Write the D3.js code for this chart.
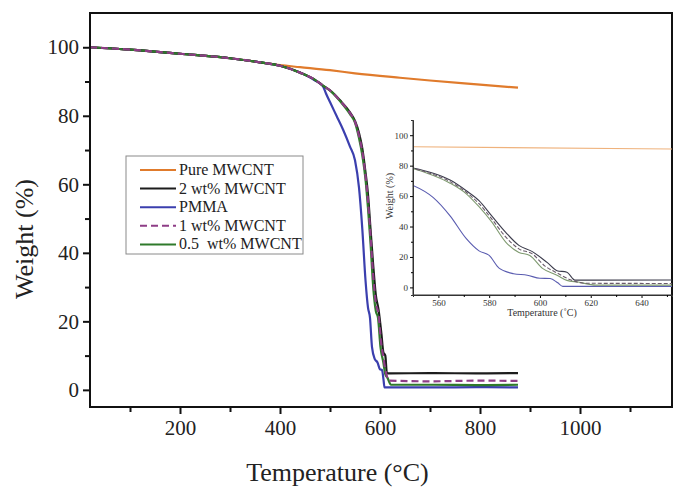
<!DOCTYPE html>
<html>
<head>
<meta charset="utf-8">
<script src="https://cdn.jsdelivr.net/npm/d3@7"></script>
<style>
  body { margin: 0; background: #fff; }
  svg { display: block; font-family: "Liberation Serif", "Times New Roman", serif; }
</style>
</head>
<body>
<svg id="chart"></svg>
<script>
// TGA curves, weight (%) vs temperature (°C)
const pureT = [20, 100, 200, 300, 360, 400, 440, 500, 550, 640, 700, 800, 876];
const pureW = [100, 99.3, 98.1, 96.8, 95.6, 94.8, 94.2, 93.3, 92.4, 91.1, 90.3, 89.1, 88.2];

const blackT = [20, 100, 200, 300, 360, 400, 440, 470, 486, 500, 520, 540, 550, 558, 564.6, 571, 576, 581, 586.6, 591.7, 597, 602.8, 606.7, 610.6, 613.8, 620, 700, 800, 876];
const blackW = [100, 99.3, 98.1, 96.8, 95.6, 94.6, 92.6, 90.5, 88.8, 87.4, 84.5, 81, 78.5, 75, 70.5, 63.5, 57, 47, 36, 27.6, 23.5, 16.4, 11, 10, 4.8, 4.8, 4.9, 4.8, 4.9];

const pmmaT = [20, 100, 200, 300, 360, 400, 440, 470, 486, 492, 500, 513, 526, 540, 550, 558, 564.6, 571, 576, 580, 584, 589.6, 595, 600, 604, 607, 609, 700, 800, 876];
const pmmaW = [100, 99.3, 98.1, 96.8, 95.6, 94.6, 92.6, 90.3, 88.6, 86.5, 84, 80, 76, 71, 67, 59, 47, 32, 24, 21, 12.5, 9, 8, 6, 5.8, 3, 0.7, 0.7, 0.8, 0.7];

const oneT = [20, 100, 200, 300, 360, 400, 440, 470, 486, 500, 520, 540, 550, 558, 564.6, 571, 576, 581, 586.6, 591.7, 597, 602, 606.7, 612, 618, 700, 800, 876];
const oneW = [100, 99.3, 98.1, 96.8, 95.6, 94.6, 92.6, 90.5, 88.8, 87.4, 84.4, 80.8, 78.2, 74.2, 69.5, 62.5, 55, 45, 33, 25.3, 22, 14, 9.5, 5, 2.7, 2.5, 2.7, 2.6];

const halfT = [20, 100, 200, 300, 360, 400, 440, 470, 486, 500, 520, 540, 550, 558, 564.6, 571, 576, 581, 586.6, 591.7, 596, 601, 606.7, 610.6, 615, 622, 700, 800, 876];
const halfW = [100, 99.3, 98.1, 96.8, 95.6, 94.6, 92.6, 90.5, 88.8, 87.4, 84.3, 80.5, 78, 73.5, 68.5, 61.5, 53, 43, 29.6, 23, 21, 12.5, 8, 4.6, 3.5, 1.5, 1.5, 1.4, 1.5];

const seriesNames = ["Pure MWCNT", "2 wt% MWCNT", "PMMA", "1 wt% MWCNT", "0.5  wt% MWCNT"];
const xTicks = [200, 400, 600, 800, 1000];
const yTicks = [0, 20, 40, 60, 80, 100];
const insetXTicks = [560, 580, 600, 620, 640];
const insetYTicks = [0, 20, 40, 60, 80, 100];

const width = 674, height = 487;
const svg = d3.select("#chart").attr("width", width).attr("height", height);

const series = [
  { name: seriesNames[0], T: pureT, W: pureW, color: "#e07b2c", inset: "#efb27c", dash: null, order: 0 },
  { name: seriesNames[1], T: blackT, W: blackW, color: "#1c1c1c", inset: "#3c3c4c", dash: null, order: 2 },
  { name: seriesNames[2], T: pmmaT, W: pmmaW, color: "#3b3fae", inset: "#5a5cb0", dash: null, order: 1 },
  { name: seriesNames[3], T: oneT, W: oneW, color: "#8e3d86", inset: "#6a5a6a", dash: "7,4", order: 4 },
  { name: seriesNames[4], T: halfT, W: halfW, color: "#2f7a2b", inset: "#7f9a70", dash: null, order: 3 }
];
series.forEach(s => s.pts = s.T.map((t, i) => [t, s.W[i]]));

// ---- main plot ----
const m = { left: 90, right: 672, top: 13, bottom: 407 };
const x = d3.scaleLinear().domain([20, 1184]).range([m.left, m.right]);
const y = d3.scaleLinear().domain([-5, 110]).range([m.bottom, m.top]);

svg.append("clipPath").attr("id", "clipMain")
  .append("rect").attr("x", m.left).attr("y", m.top)
  .attr("width", m.right - m.left).attr("height", m.bottom - m.top);

const line = d3.line().x(d => x(d[0])).y(d => y(d[1])).curve(d3.curveMonotoneX);
const gMain = svg.append("g").attr("clip-path", "url(#clipMain)");
[...series].sort((a, b) => a.order - b.order).forEach(s => {
  gMain.append("path")
    .attr("d", line(s.pts))
    .attr("fill", "none")
    .attr("stroke", s.color)
    .attr("stroke-width", 2.2)
    .attr("stroke-dasharray", s.dash)
    .attr("stroke-linejoin", "round");
});

// axes
const xAxis = svg.append("g").attr("transform", `translate(0,${m.bottom})`)
  .call(d3.axisBottom(x).tickValues(xTicks).tickFormat(d3.format("d")).tickSize(7).tickPadding(6));
svg.append("g").attr("transform", `translate(0,${m.bottom})`)
  .call(d3.axisBottom(x).tickValues([100, 300, 500, 700, 900, 1100]).tickSize(5).tickFormat(""))
  .call(g => g.select(".domain").remove());
const yAxis = svg.append("g").attr("transform", `translate(${m.left},0)`)
  .call(d3.axisLeft(y).tickValues(yTicks).tickSize(7).tickPadding(4));
svg.append("g").attr("transform", `translate(${m.left},0)`)
  .call(d3.axisLeft(y).tickValues([10, 30, 50, 70, 90]).tickSize(5).tickFormat(""))
  .call(g => g.select(".domain").remove());
svg.selectAll(".domain").remove();
svg.selectAll(".tick line").attr("stroke", "#111").attr("stroke-width", 2);
[xAxis, yAxis].forEach(g => g.selectAll("text")
  .style("font-family", "Liberation Serif, serif").style("font-size", "21px").attr("fill", "#222"));

svg.append("rect")
  .attr("x", m.left).attr("y", m.top)
  .attr("width", m.right - m.left).attr("height", m.bottom - m.top)
  .attr("fill", "none").attr("stroke", "#111").attr("stroke-width", 2);

svg.append("text")
  .attr("x", (m.left + 585) / 2).attr("y", 481)
  .attr("text-anchor", "middle")
  .style("font-size", "26px").attr("fill", "#222")
  .text("Temperature (°C)");
svg.append("text")
  .attr("transform", `translate(33,239) rotate(-90)`)
  .attr("text-anchor", "middle")
  .style("font-size", "26px").attr("fill", "#222")
  .text("Weight (%)");

// legend
const lg = svg.append("g");
lg.append("rect").attr("x", 126).attr("y", 156).attr("width", 177).attr("height", 98)
  .attr("fill", "#fff").attr("stroke", "#8a8a8a").attr("stroke-width", 1);
series.forEach((s, i) => {
  const ly = 170 + i * 18.6;
  lg.append("line").attr("x1", 140).attr("x2", 176).attr("y1", ly).attr("y2", ly)
    .attr("stroke", s.color).attr("stroke-width", 2).attr("stroke-dasharray", s.dash);
  lg.append("text").attr("x", 179).attr("y", ly + 5)
    .style("font-size", "16px").attr("fill", "#222")
    .attr("xml:space", "preserve").style("white-space", "pre")
    .text(s.name);
});

// ---- inset ----
const ins = { left: 413, right: 672, top: 120, bottom: 295 };
const xi = d3.scaleLinear().domain([550, 652]).range([ins.left, ins.right]);
const yi = d3.scaleLinear().domain([-5, 110]).range([ins.bottom, ins.top]);

svg.append("clipPath").attr("id", "clipInset")
  .append("rect").attr("x", ins.left).attr("y", ins.top)
  .attr("width", ins.right - ins.left).attr("height", ins.bottom - ins.top);

const lineI = d3.line().x(d => xi(d[0])).y(d => yi(d[1])).curve(d3.curveMonotoneX);
const gIns = svg.append("g").attr("clip-path", "url(#clipInset)");
[...series].sort((a, b) => a.order - b.order).forEach(s => {
  gIns.append("path")
    .attr("d", lineI(s.pts))
    .attr("fill", "none")
    .attr("stroke", s.inset)
    .attr("stroke-width", 1.1)
    .attr("stroke-dasharray", s.dash ? "4,2" : null);
});

const xiAxis = svg.append("g").attr("transform", `translate(0,${ins.bottom})`)
  .call(d3.axisBottom(xi).tickValues(insetXTicks).tickSize(3).tickPadding(2));
svg.append("g").attr("transform", `translate(0,${ins.bottom})`)
  .call(d3.axisBottom(xi).tickValues([570, 590, 610, 630, 650]).tickSize(2).tickFormat(""));
const yiAxis = svg.append("g").attr("transform", `translate(${ins.left},0)`)
  .call(d3.axisLeft(yi).tickValues(insetYTicks).tickSize(3).tickPadding(2));
svg.append("g").attr("transform", `translate(${ins.left},0)`)
  .call(d3.axisLeft(yi).tickValues([10, 30, 50, 70, 90]).tickSize(2).tickFormat(""));
[xiAxis, yiAxis].forEach(g => g.selectAll("text")
  .style("font-family", "Liberation Serif, serif").style("font-size", "9px").attr("fill", "#333"));
svg.selectAll(".domain").attr("stroke", "#333").attr("stroke-width", 1);
xiAxis.select(".domain").attr("d", `M${ins.left},0H${ins.right}`);
yiAxis.select(".domain").attr("d", `M0,${ins.top}V${ins.bottom}`);

svg.append("text")
  .attr("x", 542).attr("y", 316)
  .attr("text-anchor", "middle")
  .style("font-size", "10px").attr("fill", "#333")
  .text("Temperature (˚C)");
svg.append("text")
  .attr("transform", `translate(393,196) rotate(-90)`)
  .attr("text-anchor", "middle")
  .style("font-size", "10px").attr("fill", "#333")
  .text("Weight (%)");
</script>
</body>
</html>
